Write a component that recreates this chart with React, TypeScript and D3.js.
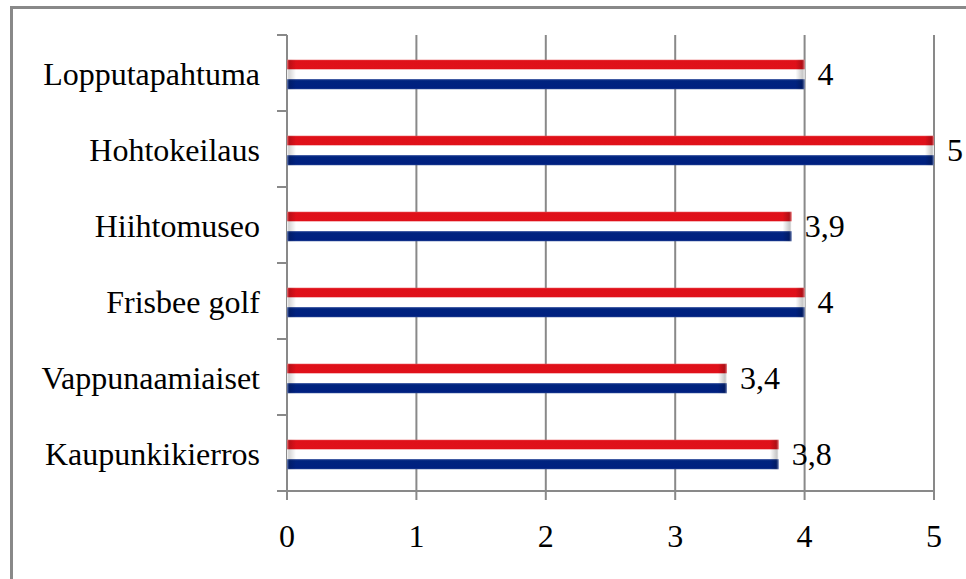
import React from "react";
import * as d3 from "d3";

const categories = [
  "Lopputapahtuma",
  "Hohtokeilaus",
  "Hiihtomuseo",
  "Frisbee golf",
  "Vappunaamiaiset",
  "Kaupunkikierros",
];
const values = [4, 5, 3.9, 4, 3.4, 3.8];
const valueLabels = ["4", "5", "3,9", "4", "3,4", "3,8"];
const xTicks = [0, 1, 2, 3, 4, 5];

const W = 966;
const H = 579;
const left = 287;
const right = 934;
const top = 35;
const bottom = 491;
const grey = "#898989";
const FS = 32;
const FF = { fontFamily: "Liberation Serif" };

export default function App() {
  const x = d3.scaleLinear().domain([0, 5]).range([left, right]);
  const y = d3.scaleBand().domain(categories).range([top, bottom]).paddingInner(0).paddingOuter(0);
  const bw = y.bandwidth();
  const barH = 29.5;
  const barOff = bw / 2 - barH / 2 + 1.5;

  return (
    <svg
      width={W}
      height={H}
      style={{ position: "absolute", left: 0, top: 0, background: "#fff" }}
    >
      <defs>
        <linearGradient id="flag" x1="0" y1="0" x2="0" y2="1">
          <stop offset="0" stopColor="#e8474d" />
          <stop offset="0.04" stopColor="#df1019" />
          <stop offset="0.32" stopColor="#e0111a" />
          <stop offset="0.335" stopColor="#ffffff" />
          <stop offset="0.655" stopColor="#ffffff" />
          <stop offset="0.67" stopColor="#3a55a0" />
          <stop offset="0.71" stopColor="#00237f" />
          <stop offset="0.96" stopColor="#002080" />
          <stop offset="1" stopColor="#2c4a98" />
        </linearGradient>
        <linearGradient id="leftEnd" x1="0" y1="0" x2="1" y2="0">
          <stop offset="0" stopColor="#ffffff" stopOpacity="0.45" />
          <stop offset="0.3" stopColor="#000000" stopOpacity="0.15" />
          <stop offset="1" stopColor="#000000" stopOpacity="0" />
        </linearGradient>
        <linearGradient id="rightEnd" x1="0" y1="0" x2="1" y2="0">
          <stop offset="0" stopColor="#000000" stopOpacity="0" />
          <stop offset="0.7" stopColor="#000000" stopOpacity="0.2" />
          <stop offset="1" stopColor="#ffffff" stopOpacity="0.5" />
        </linearGradient>
      </defs>

      {/* outer frame */}
      <line x1={11.5} x2={11.5} y1={6} y2={H} stroke={grey} strokeWidth={3} />
      <line x1={10} x2={W} y1={7.5} y2={7.5} stroke={grey} strokeWidth={3} />

      {/* vertical gridlines */}
      {xTicks.map((t) => (
        <line key={"g" + t} x1={x(t)} x2={x(t)} y1={top} y2={bottom + 9} stroke={grey} strokeWidth={2} />
      ))}
      {/* category ticks */}
      {d3.range(categories.length + 1).map((i) => (
        <line key={"yt" + i} x1={left - 10} x2={left} y1={top + i * bw} y2={top + i * bw} stroke={grey} strokeWidth={2} />
      ))}
      {/* bottom axis */}
      <line x1={left - 10} x2={right} y1={bottom} y2={bottom} stroke={grey} strokeWidth={2} />

      {/* bars */}
      {categories.map((c, i) => {
        const by = (y(c) as number) + barOff;
        const x0 = x(0);
        const x1 = x(values[i]);
        return (
          <g key={c}>
            <rect x={x0} y={by} width={x1 - x0} height={barH} fill="url(#flag)" />
            <rect x={x0} y={by} width={9} height={barH} fill="url(#leftEnd)" />
            <rect x={x1 - 9} y={by} width={9} height={barH} fill="url(#rightEnd)" />
            <text x={x1 + 13} y={by + barH / 2 + 10.5} fontSize={FS} style={FF} fill="#000">
              {valueLabels[i]}
            </text>
            <text x={260} y={by + barH / 2 + 10.5} fontSize={FS} style={FF} textAnchor="end" fill="#000">
              {c}
            </text>
          </g>
        );
      })}

      {/* x tick labels */}
      {xTicks.map((t) => (
        <text key={"xl" + t} x={x(t)} y={547} fontSize={FS} style={FF} textAnchor="middle" fill="#000">
          {t}
        </text>
      ))}
    </svg>
  );
}
